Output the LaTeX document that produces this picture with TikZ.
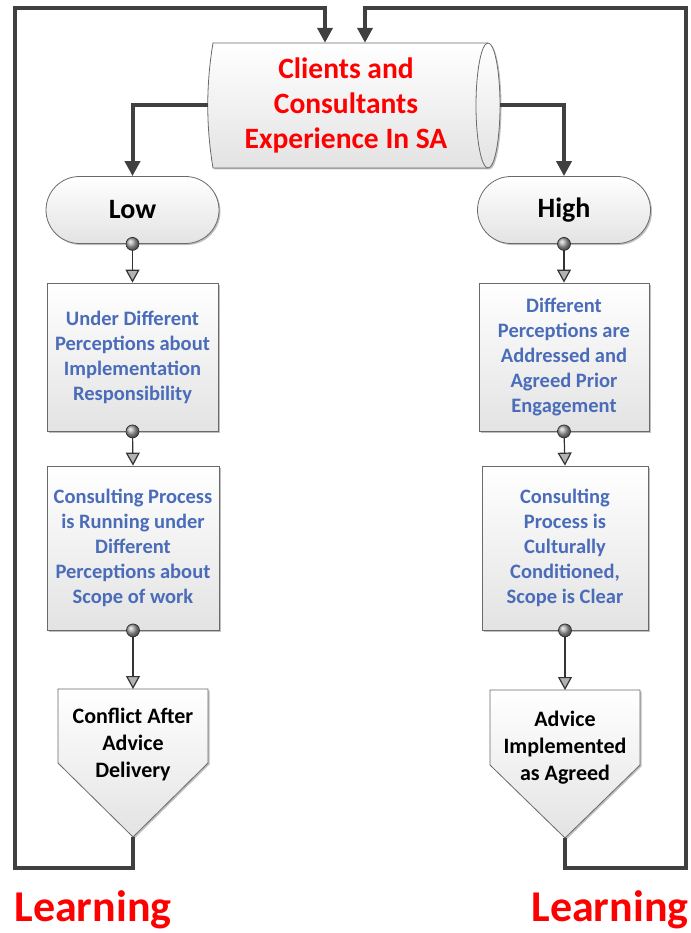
\documentclass[tikz,border=0pt]{standalone}
\usepackage{fontspec}
\setmainfont{Carlito}
\usetikzlibrary{arrows.meta,shapes.misc,shadows}
\definecolor{linedark}{HTML}{404040}
\definecolor{txtblue}{HTML}{4A6CB9}
\definecolor{bordergray}{HTML}{6A6A6A}
\tikzset{
 shadowed/.style={drop shadow={shadow xshift=1.5pt,shadow yshift=-1.5pt,fill=black,opacity=0.25}},
 shadefill/.style={top color=white,bottom color=gray!22,draw=bordergray,line width=0.8pt},
 bluebox/.style={shadefill,shadowed,rectangle,align=center,text=txtblue,font=\fontsize{20.5}{25}\selectfont\bfseries,inner sep=0pt},
 term/.style={shadefill,shadowed,rounded rectangle,minimum width=173pt,minimum height=67pt,font=\fontsize{28}{34}\selectfont\bfseries,inner sep=0pt},
 pent/.style={shadefill,shadowed},
 bigline/.style={draw=linedark,line width=4pt,-{Triangle[length=15pt,width=15pt]}},
 flowline/.style={draw=gray!40!black,line width=1.2pt,-{Triangle[length=13pt,width=14pt,fill=gray!60]}},
 knob/.style={ball color=gray!70,draw=gray!30!black,line width=0.6pt},
 ptext/.style={align=center,font=\fontsize{22}{27}\selectfont\bfseries},
 learn/.style={text=red,font=\fontsize{44}{50}\selectfont\bfseries,anchor=base},
}
\begin{document}
\begin{tikzpicture}[x=1pt,y=-1pt]
\useasboundingbox (0,0) rectangle (690,933);

% central cylinder (outline drawn as a path, anchors from an invisible node)
\node[inner sep=0pt, minimum width=292pt, minimum height=125pt] (cyl) at (354,105.5) {};
\path[shadefill, shadowed] (213,43) -- (488,43)
  arc[start angle=90, end angle=-90, x radius=12pt, y radius=62.5pt]
  -- (213,168) .. controls (206,126) and (206,85) .. (213,43) -- cycle;
\draw[bordergray, line width=0.8pt] (488,43)
  arc[start angle=90, end angle=270, x radius=12pt, y radius=62.5pt];
\node[text=red, align=center, inner sep=0pt,
  font=\fontsize{29.5}{35}\selectfont\bfseries] (cyltext) at (346,105)
  {Clients and\\Consultants\\Experience In SA};

% terminals
\node[term] (low) at (132.5,210) {Low};
\node[term] (high) at (564,210) {High};

% process boxes
\node[bluebox, minimum width=171pt, minimum height=148pt] (l1) at (132.5,357)
  {Under Different\\Perceptions about\\Implementation\\Responsibility};
\node[bluebox, minimum width=172pt, minimum height=164pt] (l2) at (133,548)
  {Consulting Process\\is Running under\\Different\\Perceptions about\\Scope of work};
\node[bluebox, minimum width=170pt, minimum height=148pt] (r1) at (564,357)
  {Different\\Perceptions are\\Addressed and\\Agreed Prior\\Engagement};
\node[bluebox, minimum width=166pt, minimum height=164pt] (r2) at (565,548)
  {Consulting\\Process is\\Culturally\\Conditioned,\\Scope is Clear};

% off-page pentagons
\coordinate (lpin) at (133,689);
\coordinate (lptip) at (133,837);
\coordinate (rpin) at (565,690);
\coordinate (rptip) at (565,838);
\path[pent] (58,689) -- (208,689) -- (208,763) -- (lptip) -- (58,763) -- cycle;
\path[pent] (490,690) -- (640,690) -- (640,765) -- (rptip) -- (490,765) -- cycle;
\node[ptext] (lpt) at (133,745) {Conflict After\\Advice\\Delivery};
\node[ptext] (rpt) at (565,748) {Advice\\Implemented\\as Agreed};

% thick connectors from cylinder
\draw[bigline] (cyl.west) -| (low.north);
\draw[bigline] (cyl.east) -| (high.north);

% flow connectors
\draw[flowline] (low.south) -- (l1.north);
\draw[flowline] (l1.south) -- (l2.north);
\draw[flowline] (l2.south) -- (lpin);
\draw[flowline] (high.south) -- (r1.north);
\draw[flowline] (r1.south) -- (r2.north);
\draw[flowline] (r2.south) -- (rpin);
\foreach \a in {low.south,l1.south,l2.south,high.south,r1.south,r2.south}
  \shadedraw[knob] (\a) circle (6.5pt);

% feedback loops
\coordinate (lbot) at (15,868);
\coordinate (ltop) at (15,8);
\coordinate (lx) at (325,0);
\coordinate (rbot) at (686,868);
\coordinate (rtop) at (686,8);
\coordinate (rx) at (365,0);
\draw[bigline] (lptip) |- (lbot) -- (ltop) -| (lx |- cyl.north);
\draw[bigline] (rptip) |- (rbot) -- (rtop) -| (rx |- cyl.north);

% labels
\node[learn] (learnl) at (93,921) {Learning};
\node[learn] (learnr) at (610,921) {Learning};
\end{tikzpicture}
\end{document}
